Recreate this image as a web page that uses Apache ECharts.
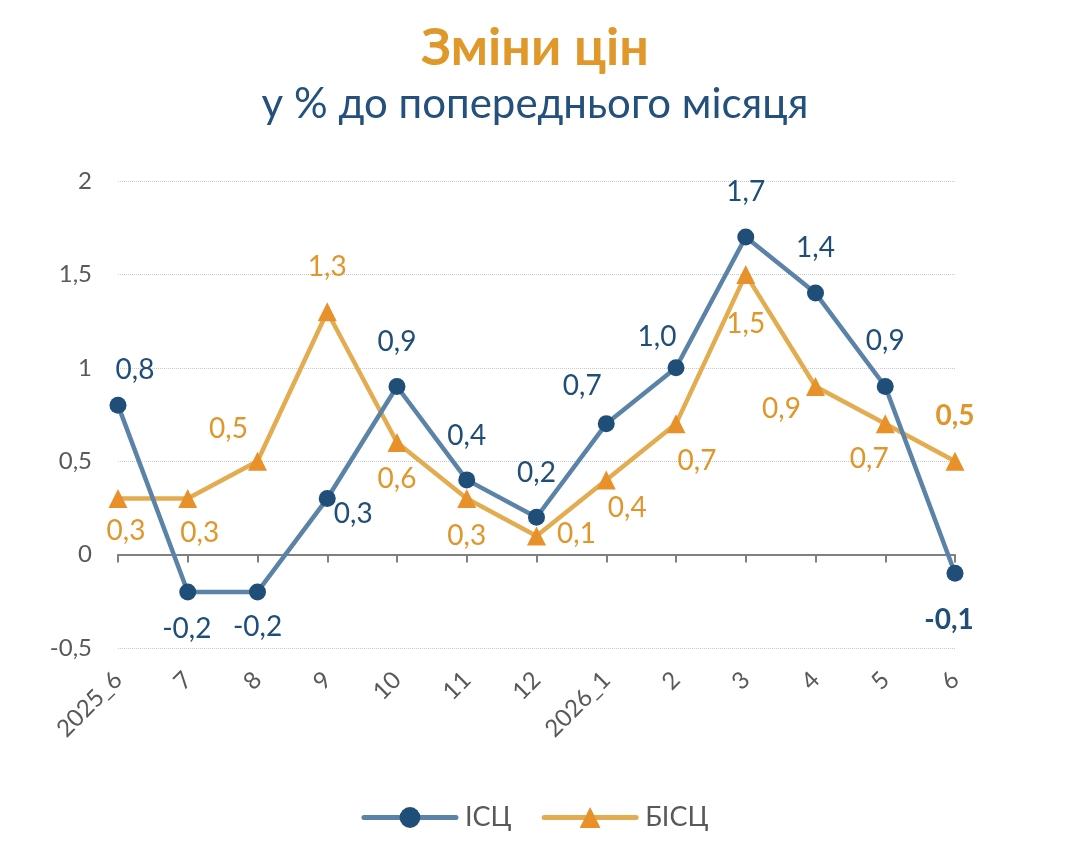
<!DOCTYPE html>
<html>
<head>
<meta charset="utf-8">
<script src="https://cdn.jsdelivr.net/npm/echarts@6/dist/echarts.min.js"></script>
<style>
  html, body { margin: 0; padding: 0; background: #fff; }
  #chart { width: 1070px; height: 858px; }
</style>
</head>
<body>
<div id="chart"></div>
<script>
// months
const categories = ['2025_6', '7', '8', '9', '10', '11', '12', '2026_1', '2', '3', '4', '5', '6'];
// % to previous month
const iscValues = [0.8, -0.2, -0.2, 0.3, 0.9, 0.4, 0.2, 0.7, 1.0, 1.7, 1.4, 0.9, -0.1];
const biscValues = [0.3, 0.3, 0.5, 1.3, 0.6, 0.3, 0.1, 0.4, 0.7, 1.5, 0.9, 0.7, 0.5];
const yTicks = [-0.5, 0, 0.5, 1, 1.5, 2];

// where each data label sits relative to its point (px)
const iscLabelOffsets = [[17, -35], [-1, 37], [0, 35], [26, 15], [0, -45], [0, -44], [0, -44],
  [-24, -38], [-19, -31], [0, -45], [0, -45], [0, -46], [-6, 47]];
const biscLabelOffsets = [[8, 32], [12, 34], [-29, -32], [0, -45], [0, 36], [0, 37], [40, -2],
  [21, 28], [21, 37], [0, 50], [-34, 22], [-16, 35], [0, -45]];

const fmt = v => v.toFixed(1).replace('.', ',');
const FONT = 'Lato';

function buildData(values, offsets, color) {
  return values.map((v, i) => ({
    value: v,
    label: {
      offset: offsets[i],
      fontWeight: i === values.length - 1 ? 'bold' : 'normal',
      color: color,
    },
  }));
}

const chart = echarts.init(document.getElementById('chart'), null, { renderer: 'canvas' });

chart.setOption({
  backgroundColor: '#FFFFFF',
  animation: false,
  textStyle: { fontFamily: FONT },
  title: [
    {
      text: 'Зміни цін',
      left: 'center',
      top: 17,
      textStyle: { fontFamily: FONT, fontSize: 52, fontWeight: 'bold', color: '#E0982B' },
    },
    {
      text: 'у % до попереднього місяця',
      left: 'center',
      top: 78,
      textStyle: { fontFamily: FONT, fontSize: 42, fontWeight: 'normal', color: '#24507D' },
    },
  ],
  legend: {
    bottom: 22,
    left: 'center',
    itemWidth: 92,
    itemHeight: 26,
    itemGap: 30,
    lineStyle: { width: 5, cap: 'round' },
    textStyle: { fontFamily: FONT, fontSize: 27, color: '#595959', padding: [0, 0, 0, 4] },
    data: ['ІСЦ', 'БІСЦ'],
  },
  grid: { left: 118, right: 115, top: 181, bottom: 210, containLabel: false },
  xAxis: {
    type: 'category',
    data: categories,
    boundaryGap: false,
    axisLine: { onZero: true, lineStyle: { color: '#808080', width: 2 } },
    axisTick: { show: true, length: 8, lineStyle: { color: '#808080', width: 2 } },
    axisLabel: {
      rotate: 45,
      margin: 28,
      fontFamily: FONT,
      fontSize: 24,
      color: '#595959',
    },
  },
  yAxis: {
    type: 'value',
    min: yTicks[0],
    max: yTicks[yTicks.length - 1],
    interval: 0.5,
    axisLine: { show: false },
    axisTick: { show: false },
    axisLabel: {
      margin: 26,
      fontFamily: FONT,
      fontSize: 24,
      color: '#595959',
      formatter: v => String(v).replace('.', ','),
    },
    splitLine: { show: true, lineStyle: { type: 'dotted', color: '#C8C8C8', width: 1 } },
  },
  series: [
    {
      name: 'ІСЦ',
      type: 'line',
      data: buildData(iscValues, iscLabelOffsets, '#1F4E79'),
      symbol: 'circle',
      symbolSize: 17,
      z: 3,
      lineStyle: { color: '#5B83A8', width: 4.5 },
      itemStyle: { color: '#1F4E79', borderWidth: 0 },
      label: {
        show: true,
        position: 'inside',
        fontFamily: FONT,
        fontSize: 28,
        formatter: p => fmt(p.value),
      },
    },
    {
      name: 'БІСЦ',
      type: 'line',
      data: buildData(biscValues, biscLabelOffsets, '#E0962A'),
      symbol: 'triangle',
      symbolSize: 19,
      z: 2,
      lineStyle: { color: '#E3AC50', width: 4.5 },
      itemStyle: { color: '#E8912A', borderWidth: 0 },
      label: {
        show: true,
        position: 'inside',
        fontFamily: FONT,
        fontSize: 28,
        formatter: p => fmt(p.value),
      },
    },
  ],
});
</script>
</body>
</html>
